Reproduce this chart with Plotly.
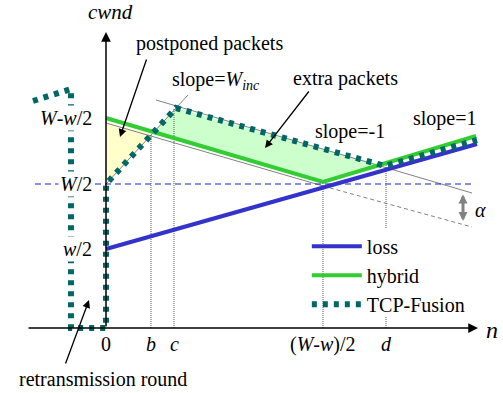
import plotly.graph_objects as go

# ---- schematic data (units: n on x, cwnd on y) ----
x_ticks = [0, 45, 68, 217, 280]
x_tick_labels = ["0", "<i>b</i>", "<i>c</i>", "(<i>W</i>-<i>w</i>)/2", "<i>d</i>"]
y_ticks = [79, 144, 210]
y_tick_labels = ["<i>w</i>/2", "<i>W</i>/2", "<i>W</i>-<i>w</i>/2"]

loss_x = [0, 371]
loss_y = [79, 184]
hybrid_x = [0, 217, 370]
hybrid_y = [210, 146, 192]
fusion_x = [-73, -35, -35, 0, 0, 70, 279, 371]
fusion_y = [227, 239, 0, 0, 144, 220, 162, 188]

postponed_x = [0, 0, 45]
postponed_y = [205, 144, 194]
extra_x = [45, 70, 279, 217]
extra_y = [194, 220, 162, 146]

gray_rise_x, gray_rise_y = [0, 82], [144, 233]
gray_desc_x, gray_desc_y = [50, 366], [228, 135]
gray_under_x, gray_under_y = [0, 217], [205, 142]
gray_dash_x, gray_dash_y = [217, 366], [142, 101]
half_W_x, half_W_y = [-71, 366], [144, 144]

guide_x = [45, 45, None, 68, 68, None, 217, 217, None, 280, 280, None, 280, 280]
guide_y = [0, 194, None, 0, 220, None, 0, 146, None, 0, 11, None, 100, 163]

FONT = "Liberation Serif, Times New Roman, serif"
BLUE = "rgb(51,51,204)"
GREEN = "rgb(51,204,51)"
TEAL = "rgb(0,102,102)"
GRAY = "rgb(130,130,130)"

fig = go.Figure()

fig.add_trace(go.Scatter(x=postponed_x, y=postponed_y, fill="toself", mode="none",
                         fillcolor="rgb(255,255,204)", showlegend=False, hoverinfo="skip"))
fig.add_trace(go.Scatter(x=extra_x, y=extra_y, fill="toself", mode="none",
                         fillcolor="rgb(204,255,204)", showlegend=False, hoverinfo="skip"))

for gx, gy, dash in [(gray_rise_x, gray_rise_y, "solid"), (gray_desc_x, gray_desc_y, "solid"),
                     (gray_under_x, gray_under_y, "solid"), (gray_dash_x, gray_dash_y, "4px,3px")]:
    fig.add_trace(go.Scatter(x=gx, y=gy, mode="lines", line=dict(color=GRAY, width=1, dash=dash),
                             showlegend=False, hoverinfo="skip"))

fig.add_trace(go.Scatter(x=half_W_x, y=half_W_y, mode="lines",
                         line=dict(color="rgb(30,30,190)", width=1.2, dash="6px,4px"),
                         showlegend=False, hoverinfo="skip"))
fig.add_trace(go.Scatter(x=guide_x, y=guide_y, mode="lines",
                         line=dict(color="rgb(90,90,90)", width=1, dash="1px,1px"),
                         showlegend=False, hoverinfo="skip"))

fig.add_trace(go.Scatter(x=loss_x, y=loss_y, mode="lines", name="loss",
                         line=dict(color=BLUE, width=4)))
fig.add_trace(go.Scatter(x=hybrid_x, y=hybrid_y, mode="lines", name="hybrid",
                         line=dict(color=GREEN, width=4)))
fig.add_trace(go.Scatter(x=fusion_x, y=fusion_y, mode="lines", name="TCP-Fusion",
                         line=dict(color=TEAL, width=6, dash="5px,6px")))

ann = []
# axes arrows
ann.append(dict(x=372, y=0, ax=-79, ay=0, axref="x", ayref="y", xref="x", yref="y",
                text="", showarrow=True, arrowhead=2, arrowsize=1.3, arrowwidth=1.5, arrowcolor="black"))
ann.append(dict(x=0, y=296, ax=0, ay=0, axref="x", ayref="y", xref="x", yref="y",
                text="", showarrow=True, arrowhead=2, arrowsize=1.3, arrowwidth=1.5, arrowcolor="black"))
# tick labels
for xv, lab in zip(x_ticks, x_tick_labels):
    ann.append(dict(x=xv, y=-16, text=lab, showarrow=False, xanchor="center", yanchor="middle",
                    font=dict(size=20, family=FONT, color="black")))
for yv, lab in zip(y_ticks, y_tick_labels):
    ann.append(dict(x=-12, y=yv, text=lab, showarrow=False, xanchor="right", yanchor="middle",
                    bgcolor="white", font=dict(size=20, family=FONT, color="black")))
# axis titles
ann.append(dict(x=4, y=316, text="<i>cwnd</i>", showarrow=False,
                font=dict(size=21, family=FONT, color="black")))
ann.append(dict(x=386, y=-2, text="<i>n</i>", showarrow=False,
                font=dict(size=24, family=FONT, color="black")))
# text labels
texts = [
    (103, 285, "postponed packets", "center"),
    (64, 248, "slope=<i>W</i><sub><i>inc</i></sub>", "left"),
    (239, 250, "extra packets", "center"),
    (244, 197, "slope=-1", "center"),
    (339, 210, "slope=1", "center"),
    (-3, -51, "retransmission round", "center"),
    (374, 118, "<i>α</i>", "center"),
]
for tx, ty, tt, xa in texts:
    ann.append(dict(x=tx, y=ty, text=tt, showarrow=False, xanchor=xa, yanchor="middle",
                    font=dict(size=20, family=FONT, color="black")))
# pointer arrows
for hx, hy, tx, ty in [(14, 191, 41, 270), (159, 180, 204, 238), (-17, 28, -41, -37)]:
    ann.append(dict(x=hx, y=hy, ax=tx, ay=ty, axref="x", ayref="y", xref="x", yref="y",
                    text="", showarrow=True, arrowhead=2, arrowsize=1.2, arrowwidth=1.3,
                    arrowcolor="black"))
# alpha double arrow
ann.append(dict(x=357, y=107, ax=357, ay=135, axref="x", ayref="y", xref="x", yref="y",
                text="", showarrow=True, arrowhead=2, startarrowhead=2, arrowside="end+start",
                arrowsize=0.6, startarrowsize=0.6, arrowwidth=3, arrowcolor=GRAY))

fig.update_layout(
    width=503, height=393,
    margin=dict(l=0, r=0, t=0, b=0),
    paper_bgcolor="white", plot_bgcolor="white",
    xaxis=dict(range=[-106, 397], visible=False, fixedrange=True),
    yaxis=dict(range=[-65, 328], visible=False, fixedrange=True),
    annotations=ann,
    legend=dict(x=0.61, y=0.423, xanchor="left", yanchor="top",
                bgcolor="rgba(0,0,0,0)", itemwidth=50, tracegroupgap=0,
                font=dict(size=20, family=FONT, color="black")),
    font=dict(family=FONT),
)

fig.write_html("out.html")
